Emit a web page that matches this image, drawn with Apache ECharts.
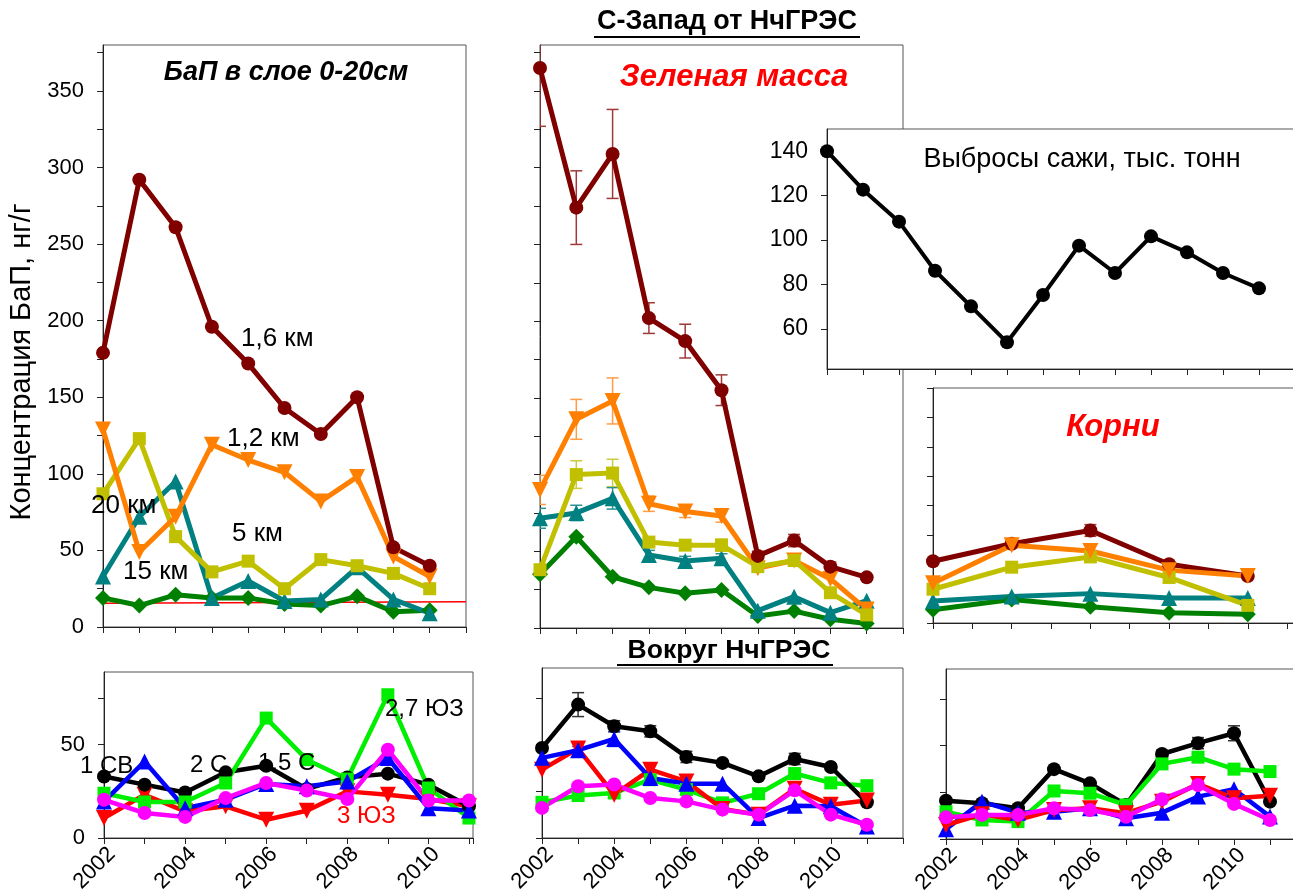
<!DOCTYPE html>
<html>
<head>
<meta charset="utf-8">
<script src="https://cdn.jsdelivr.net/npm/echarts@6/dist/echarts.min.js"></script>
<style>html,body{margin:0;background:#fff}#chart{width:1293px;height:890px}</style>
</head>
<body>
<div id="chart"></div>
<script>
// годы наблюдений
const years = [2002, 2003, 2004, 2005, 2006, 2007, 2008, 2009, 2010, 2011];
const rootYears = [2002, 2004, 2006, 2008, 2010];
const sootYears = [1999, 2000, 2001, 2002, 2003, 2004, 2005, 2006, 2007, 2008, 2009, 2010, 2011];

// БаП в почве 0-20 см, северо-запад (по цвету линии)
const soilDarkRed = [179, 292, 261, 196, 172, 143, 126, 150, 52, 40];
const soilOrange = [129, 49, 72, 119, 109, 101, 82, 98, 46, 33];
const soilOlive = [87, 123, 59, 36, 43, 25, 44, 40, 35, 25];
const soilTeal = [33, 72, 95, 19, 30, 17, 18, 39, 18, 9];
const soilGreen = [19, 14, 21, 19, 19, 15, 14, 20, 10, 11];
const baseYears = [2002, 2012];
const baseVals = [15.5, 16.5];

// зеленая масса
const gmDarkRed = [365, 274, 309, 202, 187, 155, 47, 57, 40, 33];
const gmDarkRedErr = [38, 24, 29, 10, 11, 10, 3, 4, 3, 0];
const gmOrange = [90, 136, 148, 81, 76, 73, 39, 44, 32, 12];
const gmOrangeErr = [9.5, 13, 15, 5, 4, 4, 0, 0, 0, 0];
const gmOlive = [38, 100, 101, 56, 54, 54, 40, 44, 23, 8.5];
const gmOliveErr = [0, 9, 9, 0, 0, 4, 0, 0, 0, 0];
const gmTeal = [71.5, 75, 84.5, 47.6, 43.7, 45.4, 11.3, 20.4, 10, 17.8];
const gmTealErr = [6.5, 5, 7, 3, 3, 3, 0, 0, 0, 0];
const gmGreen = [35, 59.5, 33.4, 26.5, 22.6, 24.8, 7.8, 11, 5.7, 3];

// корни
const rtDarkRed = [42, 54, 63, 40, 32];
const rtDarkRedErr = [0, 0, 4, 0, 0];
const rtOrange = [27, 53, 49, 36, 32];
const rtOrangeErr = [0, 2, 0, 0, 0];
const rtOlive = [23, 38, 45, 31, 12];
const rtTeal = [15, 18, 20, 17, 17];
const rtGreen = [9, 16, 11, 7, 6];

// выбросы сажи, тыс. тонн
const soot = [140, 122.7, 108.3, 86.2, 70.2, 54, 75.3, 97.5, 85.2, 101.7, 94.5, 85.2, 78.3];

// вокруг НчГРЭС: почва
const arSoilBlack = [33, 28.6, 24.4, 35.2, 38.7, 26.3, 32.5, 34.5, 28.6, 17];
const arSoilBlue = [19.6, 41, 16, 20.5, 29, 27.7, 30.3, 42.9, 16, 14.8];
const arSoilLime = [24, 19.3, 19.3, 29.5, 64.3, 42, 31.6, 76.8, 26.8, 10.7];
const arSoilRed = [10.7, 23.2, 14.3, 17, 9.8, 14.6, 25, 23.2, 20.9, 17];
const arSoilMagenta = [20.5, 13.4, 11.3, 21.4, 29.5, 25.5, 20.9, 47.3, 20.1, 20.1];

// вокруг НчГРЭС: зеленая масса
const arGmBlack = [48.2, 71.4, 59.8, 57.1, 43.4, 40.2, 33, 42.3, 38, 19.1];
const arGmBlackErr = [0, 6.4, 3, 3, 3, 0, 0, 3, 0, 0];
const arGmBlue = [42.9, 47, 53, 32.1, 29.1, 29.1, 10.7, 17.3, 17, 6.2];
const arGmBlueErr = [0, 2, 4, 0, 0, 0, 0, 0, 0, 0];
const arGmRed = [36.6, 47.9, 23.2, 36.6, 30.3, 15.5, 12.5, 26.3, 17.8, 20.1];
const arGmLime = [19.1, 22.7, 24.1, 31.2, 25.9, 18.8, 23.7, 34.5, 29.5, 28];
const arGmMagenta = [16.1, 27.7, 28.6, 21.4, 19.6, 15.2, 12.5, 25.5, 12.5, 7.1];

// вокруг НчГРЭС: корни
const arRtBlack = [20.5, 19.1, 16.5, 37.4, 29.8, 18.2, 45.5, 51.3, 56.6, 20];
const arRtBlackErr = [0, 0, 0, 0, 0, 0, 2, 3, 4, 0];
const arRtLime = [14.6, 10.2, 9.3, 25.7, 24.5, 18.2, 40.2, 43.8, 37.4, 36.1];
const arRtBlue = [5.2, 20, 14.1, 14.6, 16.5, 11.1, 14.1, 22.7, 26.6, 12];
const arRtRed = [7.5, 13.2, 10.2, 15.5, 16.5, 13.8, 20, 29.5, 21.8, 23.2];
const arRtMagenta = [11.6, 12.9, 12.9, 16.5, 15.5, 11.9, 21.3, 28.9, 18.8, 10.2];

// подписи осей
const soilTicks = [0, 25, 50, 75, 100, 125, 150, 175, 200, 225, 250, 275, 300, 325, 350, 375];
const soilLabels = [0, 50, 100, 150, 200, 250, 300, 350];
const rootTicks = [0, 20, 40, 60, 80, 100, 120, 140, 160];
const sootLabels = [60, 80, 100, 120, 140];
const aroundTicks = [0, 25, 50, 75];
const aroundLabels = [0, 50];

const FONT = 'Liberation Sans, Arial, sans-serif';
const C = {
  darkRed: '#800000', orange: '#ff8000', olive: '#c0c000', teal: '#008080', green: '#008000',
  black: '#000000', blue: '#0000ff', red: '#ff0000', lime: '#00ee00', magenta: '#ff00ff'
};

const grids = [
  { left: 103, top: 45, width: 363, height: 582 },   // 0 почва
  { left: 540, top: 45, width: 363, height: 583 },   // 1 зеленая масса
  { left: 933, top: 388, width: 362, height: 235 },  // 2 корни
  { left: 827, top: 129, width: 468, height: 240, z: 10, backgroundColor: '#fff' }, // 3 сажа
  { left: 104, top: 672, width: 369, height: 166 },  // 4
  { left: 542, top: 668, width: 361, height: 170 },  // 5
  { left: 946, top: 669, width: 360, height: 170 }   // 6
].map(g => Object.assign({ show: true, borderColor: '#555', borderWidth: 1,
  containLabel: false, outerBoundsMode: 'none' }, g));

function xAx(grid, min, max, withLabels, z) {
  return {
    type: 'value', gridIndex: grid, min: min, max: max, interval: 1, z: z || 0,
    splitLine: { show: false },
    axisLine: { onZero: false, lineStyle: { color: '#222', width: 1 } },
    axisTick: { length: 6, lineStyle: { color: '#222' } },
    axisLabel: withLabels ? {
      rotate: 45, fontSize: 22, margin: 5, color: '#000', fontFamily: FONT, verticalAlign: 'top',
      formatter: v => (v % 2 === 0 && v <= 2010) ? String(v) : ''
    } : { show: false }
  };
}
function yAx(grid, min, max, ticks, labels, z, fs) {
  return {
    type: 'value', gridIndex: grid, min: min, max: max, z: z || 0,
    splitLine: { show: false },
    axisLine: { show: true, onZero: false, lineStyle: { color: '#222', width: 1 } },
    axisTick: { show: true, length: 6, customValues: ticks, lineStyle: { color: '#222' } },
    axisLabel: labels ? { customValues: labels, fontSize: fs || 22, margin: 19, color: '#000', fontFamily: FONT }
                      : { show: false }
  };
}

const xAxes = [
  xAx(0, 2002, 2012, false), xAx(1, 2002, 2012, false), xAx(2, 2002, 2011.2, false),
  xAx(3, 1999, 2012, false, 11),
  xAx(4, 2002, 2011.1, true), xAx(5, 2002, 2012, true), xAx(6, 2002, 2012, true)
];
const yAxes = [
  yAx(0, 0, 380, soilTicks, soilLabels), yAx(1, 0, 380, soilTicks, null),
  yAx(2, 0, 160, rootTicks, null), yAx(3, 42, 150, sootLabels, sootLabels, 11, 23),
  yAx(4, 0, 89, aroundTicks, aroundLabels), yAx(5, 0, 91, aroundTicks, null), yAx(6, 0, 91, aroundTicks, null)
];

const symbols = {
  circle: { symbol: 'circle', size: 14, rot: 0 },
  down: { symbol: 'triangle', size: 16, rot: 180 },
  up: { symbol: 'triangle', size: 16, rot: 0 },
  square: { symbol: 'rect', size: 13, rot: 0 },
  diamond: { symbol: 'diamond', size: 16, rot: 0 }
};

function line(grid, xs, ys, color, mark, width, z) {
  const s = symbols[mark];
  return {
    type: 'line', xAxisIndex: grid, yAxisIndex: grid, z: z || 2,
    data: xs.map((x, i) => [x, ys[i]]),
    symbol: s.symbol, symbolSize: s.size, symbolRotate: s.rot, showSymbol: true,
    lineStyle: { color: color, width: width || 5 },
    itemStyle: { color: color, borderWidth: 0 },
    animation: false, silent: true
  };
}

function errors(grid, xs, ys, errs, color) {
  const data = [];
  xs.forEach((x, i) => { if (errs[i] > 0) data.push([x, ys[i] - errs[i], ys[i] + errs[i]]); });
  return {
    type: 'custom', xAxisIndex: grid, yAxisIndex: grid, z: 1, clip: true, silent: true,
    data: data, encode: { x: 0, y: [1, 2] }, animation: false,
    renderItem: (params, api) => {
      const lo = api.coord([api.value(0), api.value(1)]);
      const hi = api.coord([api.value(0), api.value(2)]);
      const w = 6;
      const st = { stroke: color, lineWidth: 1.5 };
      return {
        type: 'group', children: [
          { type: 'line', shape: { x1: lo[0], y1: lo[1], x2: hi[0], y2: hi[1] }, style: st },
          { type: 'line', shape: { x1: lo[0] - w, y1: lo[1], x2: lo[0] + w, y2: lo[1] }, style: st },
          { type: 'line', shape: { x1: hi[0] - w, y1: hi[1], x2: hi[0] + w, y2: hi[1] }, style: st }
        ]
      };
    }
  };
}

const series = [
  // почва
  { type: 'line', xAxisIndex: 0, yAxisIndex: 0, data: baseYears.map((x, i) => [x, baseVals[i]]),
    symbol: 'none', lineStyle: { color: C.red, width: 1.5 }, z: 1, animation: false, silent: true },
  line(0, years, soilGreen, C.green, 'diamond'),
  line(0, years, soilTeal, C.teal, 'up'),
  line(0, years, soilOlive, C.olive, 'square'),
  line(0, years, soilOrange, C.orange, 'down'),
  line(0, years, soilDarkRed, C.darkRed, 'circle'),

  // зеленая масса
  errors(1, years, gmDarkRed, gmDarkRedErr, '#a03a3a'),
  errors(1, years, gmOrange, gmOrangeErr, '#ff9c45'),
  errors(1, years, gmOlive, gmOliveErr, '#cccc40'),
  errors(1, years, gmTeal, gmTealErr, '#2a9090'),
  line(1, years, gmGreen, C.green, 'diamond'),
  line(1, years, gmTeal, C.teal, 'up'),
  line(1, years, gmOrange, C.orange, 'down'),
  line(1, years, gmOlive, C.olive, 'square'),
  line(1, years, gmDarkRed, C.darkRed, 'circle'),

  // корни
  errors(2, rootYears, rtDarkRed, rtDarkRedErr, '#a03a3a'),
  errors(2, rootYears, rtOrange, rtOrangeErr, '#ff9c45'),
  line(2, rootYears, rtGreen, C.green, 'diamond'),
  line(2, rootYears, rtTeal, C.teal, 'up'),
  line(2, rootYears, rtOlive, C.olive, 'square'),
  line(2, rootYears, rtDarkRed, C.darkRed, 'circle'),
  line(2, rootYears, rtOrange, C.orange, 'down'),

  // сажа
  line(3, sootYears, soot, C.black, 'circle', 4, 12),

  // вокруг: почва
  line(4, years, arSoilRed, C.red, 'down', 4.5),
  line(4, years, arSoilBlack, C.black, 'circle', 4.5),
  line(4, years, arSoilLime, C.lime, 'square', 4.5),
  line(4, years, arSoilBlue, C.blue, 'up', 4.5),
  line(4, years, arSoilMagenta, C.magenta, 'circle', 4.5),

  // вокруг: зеленая масса
  errors(5, years, arGmBlack, arGmBlackErr, '#333'),
  errors(5, years, arGmBlue, arGmBlueErr, '#3050ff'),
  line(5, years, arGmLime, C.lime, 'square', 4.5),
  line(5, years, arGmBlack, C.black, 'circle', 4.5),
  line(5, years, arGmRed, C.red, 'down', 4.5),
  line(5, years, arGmBlue, C.blue, 'up', 4.5),
  line(5, years, arGmMagenta, C.magenta, 'circle', 4.5),

  // вокруг: корни
  errors(6, years, arRtBlack, arRtBlackErr, '#333'),
  line(6, years, arRtBlack, C.black, 'circle', 4.5),
  line(6, years, arRtLime, C.lime, 'square', 4.5),
  line(6, years, arRtBlue, C.blue, 'up', 4.5),
  line(6, years, arRtRed, C.red, 'down', 4.5),
  line(6, years, arRtMagenta, C.magenta, 'circle', 4.5)
];

function txt(x, y, text, size, extra) {
  const st = Object.assign({
    text: text, fontSize: size, fontFamily: FONT, fill: '#000',
    align: 'left', verticalAlign: 'middle', textAlign: 'left', textVerticalAlign: 'middle'
  }, extra || {});
  if (st.align === 'center') st.textAlign = 'center';
  return { type: 'text', x: x, y: y, z: 100, silent: true, style: st };
}
const bi = { fontWeight: 'bold', fontStyle: 'italic', align: 'center' };

const graphics = [
  txt(727, 22, 'С-Запад от НчГРЭС', 27, { fontWeight: 'bold', align: 'center' }),
  { type: 'line', z: 100, shape: { x1: 594, y1: 37, x2: 860, y2: 37 }, style: { stroke: '#000', lineWidth: 2 } },
  txt(729, 651, 'Вокруг НчГРЭС', 26.5, { fontWeight: 'bold', align: 'center' }),
  { type: 'line', z: 100, shape: { x1: 617, y1: 665, x2: 833, y2: 665 }, style: { stroke: '#000', lineWidth: 2 } },
  txt(286, 73, 'БаП в слое 0-20см', 27, bi),
  txt(734, 77, 'Зеленая масса', 31, Object.assign({}, bi, { fill: '#ff0000' })),
  txt(1113, 427, 'Корни', 31, Object.assign({}, bi, { fill: '#ff0000' })),
  txt(1082, 160, 'Выбросы сажи, тыс. тонн', 27, { align: 'center' }),
  txt(22, 362, 'Концентрация БаП, нг/г', 29, { align: 'center' }),
  txt(241, 339, '1,6 км', 26),
  txt(227, 439, '1,2 км', 26),
  txt(91, 506, '20 км', 26),
  txt(232, 534, '5 км', 26),
  txt(123, 572, '15 км', 26),
  txt(80, 766, '1 СВ', 24),
  txt(190, 765, '2 С', 24),
  txt(258, 763, '1,5 С', 24),
  txt(385, 709, '2,7 ЮЗ', 24),
  txt(337, 816, '3 ЮЗ', 24, { fill: '#ff0000' })
];
// повернуть подпись оси Y
graphics[8].rotation = Math.PI / 2;

const chart = echarts.init(document.getElementById('chart'));
chart.setOption({
  animation: false,
  backgroundColor: '#fff',
  textStyle: { fontFamily: FONT },
  grid: grids,
  xAxis: xAxes,
  yAxis: yAxes,
  series: series,
  graphic: { elements: graphics }
});
</script>
</body>
</html>
